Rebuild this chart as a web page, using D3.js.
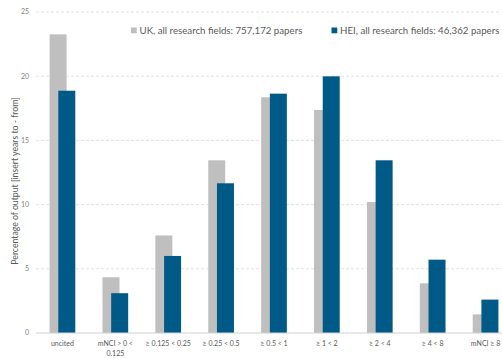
<!DOCTYPE html>
<html><head><meta charset="utf-8">
<script src="https://cdn.jsdelivr.net/npm/d3@7"></script>
<style>body{margin:0;background:#fff;}svg{display:block;font-family:Lato,"Open Sans",sans-serif;}</style>
</head><body>
<script>
const categories = ["uncited", "mNCI > 0 < 0.125", "≥ 0.125 < 0.25", "≥ 0.25 < 0.5", "≥ 0.5 < 1", "≥ 1 < 2", "≥ 2 < 4", "≥ 4 < 8", "mNCI ≥ 8"];
const categoryLines = [["uncited"], ["mNCI > 0 <", "0.125"], ["≥ 0.125 < 0.25"], ["≥ 0.25 < 0.5"], ["≥ 0.5 < 1"], ["≥ 1 < 2"], ["≥ 2 < 4"], ["≥ 4 < 8"], ["mNCI ≥ 8"]];
const ukValues = [23.26, 4.34, 7.6, 13.45, 18.36, 17.37, 10.2, 3.87, 1.45];
const heiValues = [18.87, 3.1, 6.0, 11.66, 18.64, 19.99, 13.45, 5.71, 2.6];
const seriesNames = ["UK, all research fields: 757,172 papers", "HEI, all research fields: 46,362 papers"];
const yTicks = [0, 5, 10, 15, 20, 25];
const yTitle = "Percentage of output [insert years to - from]";

const W = 502, H = 358;
const svg = d3.select("body").append("svg").attr("width", W).attr("height", H);

const x = d3.scaleBand().domain(categories).range([36, 512]).paddingInner(0).paddingOuter(0);
const y = d3.scaleLinear().domain([0, 25]).range([333, 12]);

// gridlines
svg.append("g").selectAll("line").data(yTicks.filter(d => d > 0)).join("line")
  .attr("x1", 36).attr("x2", W).attr("y1", d => y(d)).attr("y2", d => y(d))
  .attr("stroke", "#d9d9d9").attr("stroke-width", 0.8).attr("stroke-dasharray", "3,2");

// y tick labels
svg.append("g").selectAll("text").data(yTicks).join("text")
  .attr("x", 29).attr("y", d => y(d)).attr("dy", "0.35em").attr("text-anchor", "end")
  .attr("font-size", 7).attr("fill", "#7f7f7f").text(d => d);

// y title
svg.append("text").attr("transform", `translate(15,${181}) rotate(-90)`)
  .attr("text-anchor", "middle").attr("dy", "0.35em").attr("font-size", 8.7).attr("fill", "#595959").text(yTitle);

const bw = 17, off = 8.7;
const barStart = c => x(c) + x.bandwidth() / 2 - (bw + off) / 2;

svg.append("g").selectAll("rect").data(categories).join("rect")
  .attr("x", (c) => barStart(c)).attr("width", bw)
  .attr("y", (c, i) => y(ukValues[i])).attr("height", (c, i) => y(0) - y(ukValues[i]))
  .attr("fill", "#bfbfbf");
svg.append("g").selectAll("rect").data(categories).join("rect")
  .attr("x", (c) => barStart(c) + off).attr("width", bw)
  .attr("y", (c, i) => y(heiValues[i])).attr("height", (c, i) => y(0) - y(heiValues[i]))
  .attr("fill", "#005a87");

// axis line
svg.append("line").attr("x1", 36).attr("x2", W).attr("y1", y(0)).attr("y2", y(0))
  .attr("stroke", "#d0d0d0").attr("stroke-width", 1);

// x labels
const xl = svg.append("g").selectAll("text").data(categories).join("text")
  .attr("x", c => x(c) + x.bandwidth() / 2).attr("y", 346).attr("text-anchor", "middle")
  .attr("font-size", 7).attr("fill", "#595959");
xl.each(function(c, i) {
  const t = d3.select(this);
  categoryLines[i].forEach((ln, j) => {
    t.append("tspan").attr("x", x(c) + x.bandwidth() / 2).attr("dy", j === 0 ? 0 : 9.5).text(ln);
  });
});

// legend
const legend = [{n: seriesNames[0], c: "#bfbfbf", x: 131}, {n: seriesNames[1], c: "#005a87", x: 331.5}];
const lg = svg.append("g").selectAll("g").data(legend).join("g");
lg.append("rect").attr("x", d => d.x).attr("y", 27.5).attr("width", 5.8).attr("height", 5.8).attr("fill", d => d.c);
lg.append("text").attr("x", d => d.x + 8.5).attr("y", 30.7).attr("dy", "0.35em")
  .attr("font-size", 9.7).attr("fill", "#595959").text(d => d.n);
</script>
</body></html>
